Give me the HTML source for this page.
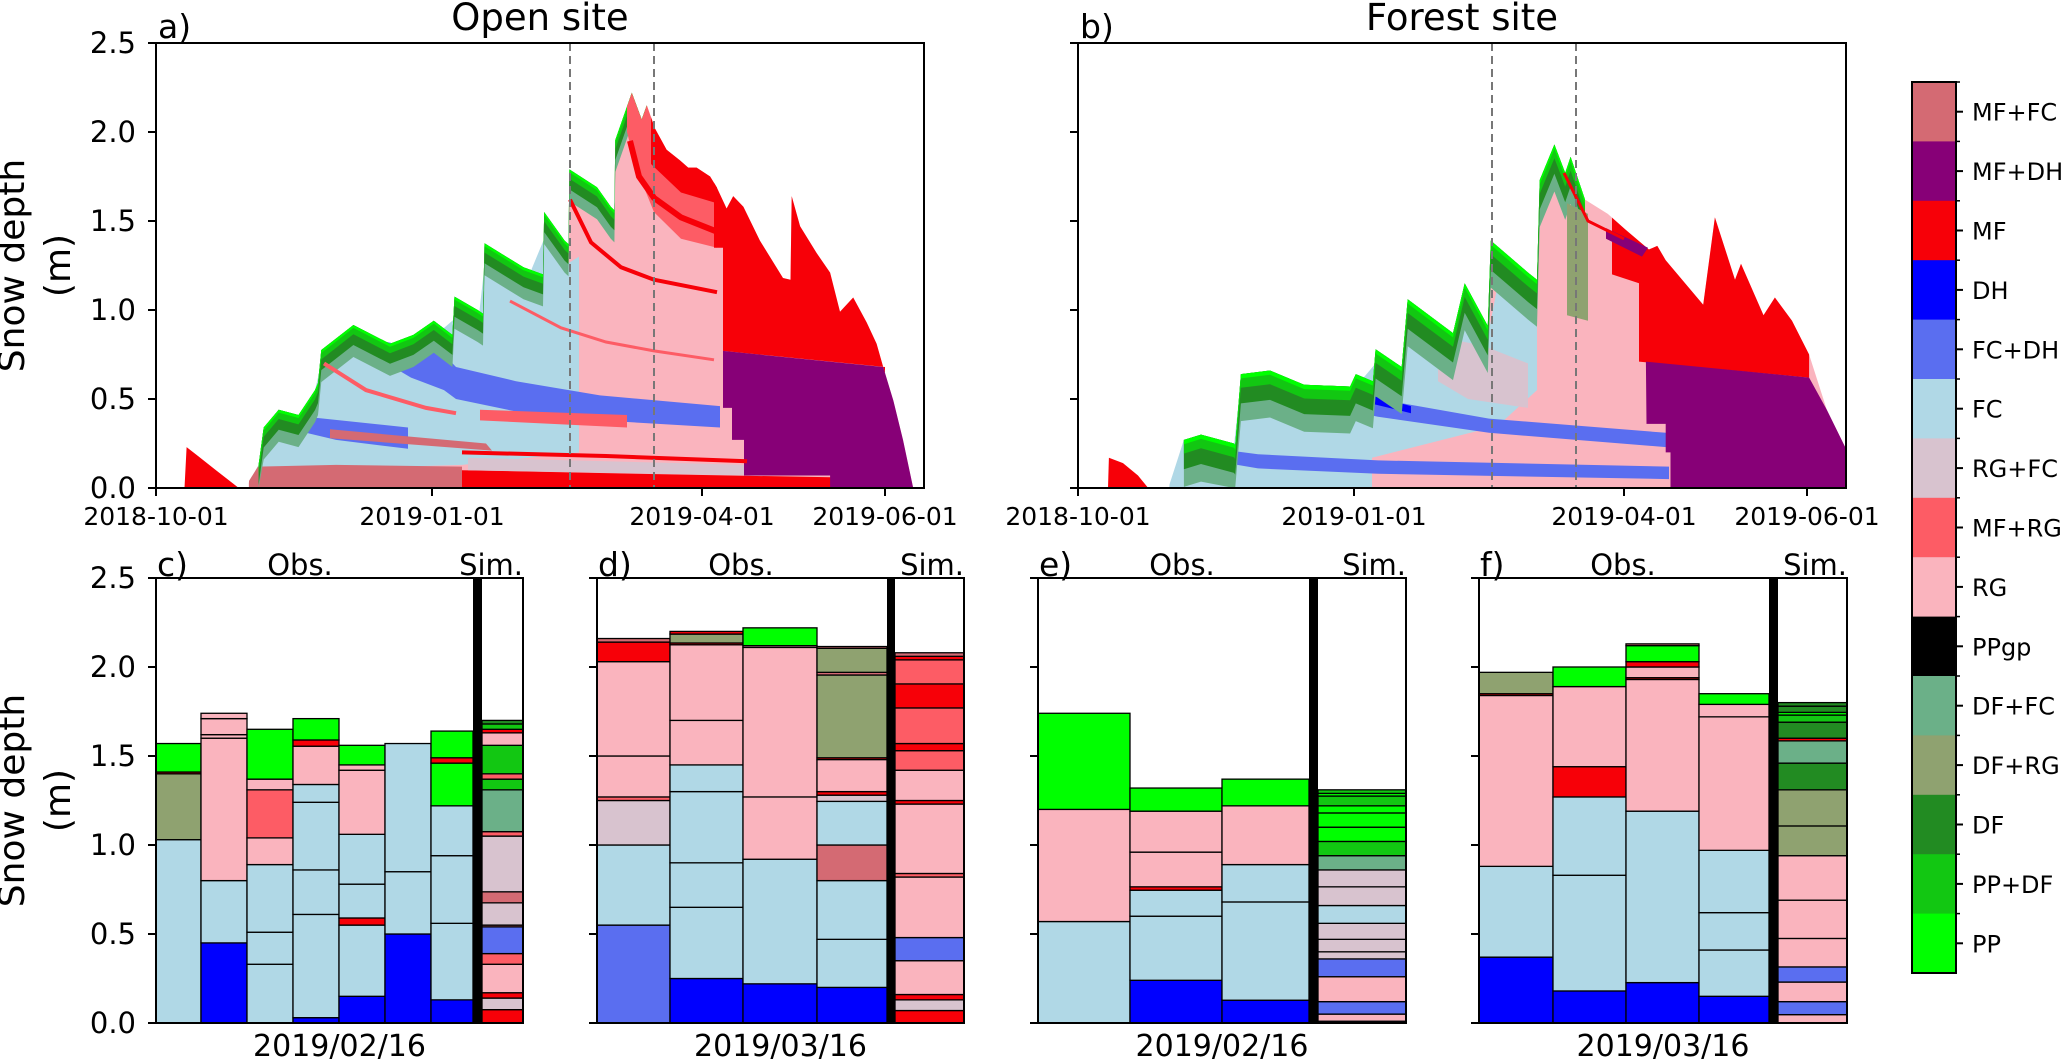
<!DOCTYPE html>
<html><head><meta charset="utf-8"><title>Snow stratigraphy</title>
<style>
html,body{margin:0;padding:0;background:#fff;}
svg{display:block;font-family:"DejaVu Sans","Liberation Sans",sans-serif;}
</style></head>
<body>
<svg id="fig" xmlns="http://www.w3.org/2000/svg" width="2067" height="1060" viewBox="0 0 2067 1060"></svg>
<script>
// ---------- data ----------
const grainTypes = ['MF+FC','MF+DH','MF','DH','FC+DH','FC','RG+FC','MF+RG','RG','PPgp','DF+FC','DF+RG','DF','PP+DF','PP'];
const grainColors = ['#d46a73','#870077','#f70008','#0000ff','#5a6ef0','#b0d8e6','#d8c3cf','#fd5c65','#fab4be','#000000','#6bb088','#8fa270','#228b22','#12c712','#00ff00'];

// Panel a (open site) total depth outline
const aEarlyDays = [9.5,10.2,14,20,27.6];
const aEarlyDepth = [0,0.23,0.18,0.1,0];
const aDays = [30.9,34.2,35.9,40.9,47.5,53,54,55.1,65.8,78,85.8,92.6,98.8,99.5,107.2,109,109.5,122.5,129,129.4,136.2,137.5,137.8,147,151.6,152.8,153.1,158.6,161.9,163.6,166.3,170.2,174.7,177.4,180.2,184.7,186.9,190.2,192.4,195.8,201.3,209,211.5,211.9,214.7,220.2,224.7,228,232.4,236.9,240.2,242.4,245.8,249,252.4];
const aDepth = [0.03,0.13,0.34,0.44,0.41,0.55,0.59,0.775,0.916,0.81,0.86,0.94,0.86,1.075,1.0,0.98,1.375,1.24,1.2,1.55,1.39,1.37,1.79,1.69,1.58,1.56,1.955,2.22,2.07,2.15,2.02,1.90,1.84,1.80,1.80,1.75,1.69,1.57,1.64,1.58,1.39,1.18,1.17,1.64,1.47,1.32,1.21,0.99,1.07,0.93,0.81,0.68,0.49,0.27,0];
// Panel a regions: [day, depth] vertices
const aFC = [[31,0],[31,0.03],[34.2,0.13],[35.9,0.34],[40.9,0.44],[47.5,0.41],[53,0.55],[55.1,0.7],[65.8,0.85],[78,0.75],[92.6,0.85],[99.5,0.95],[107.2,0.9],[109.5,1.25],[122.5,1.12],[129.4,1.4],[136.2,1.25],[141,1.3],[141,0.2],[102,0.13],[40,0.1]];
const aMFFCbottom = [[31,0],[31,0.04],[34,0.12],[60,0.13],[102,0.12],[102,0]];
const aMFbottom = [[102,0],[102,0.1],[160,0.08],[225,0.06],[225,0]];
const aRGFCbottom = [[104,0.10],[197,0.07],[197,0.13],[104,0.17]];
const aMFline = [[102,0.2],[150,0.18],[197,0.15]];
const aFCDH1 = [[77,0.82],[96,0.75],[100,0.68],[120,0.6],[148,0.52],[188,0.46],[188,0.34],[148,0.38],[120,0.43],[100,0.5],[96,0.55],[85,0.62],[77,0.70]];
const aFCDH2 = [[50,0.40],[84,0.34],[84,0.22],[60,0.27],[50,0.31]];
const aMFFCmid = [[58,0.33],[110,0.25],[112,0.21],[58,0.28]];
const aMFRGmid = [[108,0.44],[157,0.41],[157,0.34],[108,0.38]];
// outline-clipped regions: top follows outline between span days, then bottom boundary (right to left)
const aMFRGupperSpan = [157,187];
const aMFRGupperBottom = [[187,1.35],[175,1.4],[166,1.55],[160,1.8],[157,2.0]];
const aMFupperSpan = [165,187];
const aMFupperBottom = [[187,1.60],[175,1.66],[165,1.82]];
const aMFrightSpan = [186,243];
const aMFrightBottom = [[243,0.68],[189,0.77],[189,1.35],[186,1.35]];
const aRedLine1 = [[158,1.95],[161,1.75],[166,1.63],[175,1.52],[187,1.44]];
const aRedLine2 = [[138,1.62],[145,1.38],[155,1.24],[166,1.17],[187,1.10]];
const aRedLine3 = [[118,1.05],[135,0.9],[150,0.82],[166,0.77],[186,0.72]];
const aRedLine4 = [[56,0.7],[70,0.55],[90,0.45],[100,0.42]];
const aMFDH = [[189,0.77],[242.4,0.68],[245.8,0.49],[249,0.27],[252.4,0],[224.7,0],[224.7,0.07],[196,0.07],[196,0.27],[192,0.27],[192,0.45],[189,0.45]];

// Panel b (forest site)
const bEarlyDays = [10,10.3,15,20,23.4];
const bEarlyDepth = [0,0.17,0.14,0.07,0];
const bDays = [30.4,35.3,41,52,52.4,54.3,64,75.4,90.7,92.6,98.3,99.2,107.9,109.9,125,128.9,136.6,137.6,150,153,153.9,158.8,162.4,164.2,169,176.6,182.6,190.3,193.1,195.9,208.4,212.3,219,221,228.5,232.3,238,243.7,249.6,256.3];
const bDepth = [0,0.27,0.30,0.25,0.24,0.64,0.66,0.58,0.57,0.64,0.60,0.78,0.68,1.06,0.87,1.15,0.91,1.39,1.21,1.17,1.73,1.93,1.77,1.86,1.62,1.54,1.45,1.34,1.36,1.28,1.03,1.52,1.17,1.26,0.97,1.07,0.94,0.75,0.44,0.21];
const bFC = [[30.4,0],[30.5,0.02],[35.3,0.27],[41,0.30],[52,0.24],[54.3,0.6],[64,0.62],[75.4,0.54],[90.7,0.53],[99.2,0.7],[107.9,0.62],[109.9,0.95],[125,0.8],[128.9,1.0],[136.6,0.85],[140,1.15],[150,1.05],[153,0.95],[153,0.55],[140,0.35],[98,0.17],[98,0]];
const bRGFCpatch = [[120,0.85],[135,0.8],[150,0.7],[150,0.45],[130,0.5],[120,0.6]];
const bFCDHlow = [[42,0.23],[60,0.19],[100,0.155],[197,0.12],[197,0.05],[100,0.08],[60,0.11],[46,0.15]];
const bFCDHup = [[75,0.57],[100,0.50],[137,0.39],[196,0.31],[196,0.23],[137,0.31],[100,0.40],[80,0.47],[75,0.53]];
const bDH = [[89,0.56],[111,0.46],[111,0.42],[89,0.51]];
const bDFRG = [[163,1.6],[170,1.54],[170,0.94],[163,0.97]];
const bMFrightSpan = [178,243.7];
const bMFrightBottom = [[243.7,0.62],[187,0.71],[187,1.15],[178,1.2]];
const bMFDHpatch = [[176,1.46],[190,1.35],[188,1.30],[176,1.40]];
const bMFDH = [[189.3,0.71],[243.7,0.62],[249.6,0.44],[256.3,0.21],[256.3,0],[197.5,0],[197.5,0.2],[195.9,0.2],[195.9,0.36],[189.5,0.36]];
const bRedLine = [[162,1.77],[170,1.5],[182,1.40]];

const axisTicksM = [0,0.5,1.0,1.5,2.0,2.5];
const axisTickLabels = ['0.0','0.5','1.0','1.5','2.0','2.5'];
const dateTickDays = [0,92,182,243];
const dateTickLabels = ['2018-10-01','2019-01-01','2019-04-01','2019-06-01'];
const pitDays = [138,166];

// Bar panels: layers [type, top depth] from ground up
const cCols = [
 [['FC',1.03],['DF+RG',1.40],['MF',1.41],['PP',1.57]],
 [['DH',0.45],['FC',0.80],['RG',1.60],['RG',1.62],['RG',1.71],['RG',1.74]],
 [['FC',0.33],['FC',0.51],['FC',0.89],['RG',1.04],['MF+RG',1.31],['RG',1.37],['PP',1.65]],
 [['DH',0.03],['FC',0.61],['FC',0.86],['FC',1.24],['FC',1.34],['RG',1.555],['MF',1.59],['PP',1.71]],
 [['DH',0.15],['FC',0.55],['MF',0.59],['FC',0.78],['FC',1.06],['RG',1.42],['RG',1.45],['PP',1.56]],
 [['DH',0.50],['FC',0.85],['FC',1.57]],
 [['DH',0.13],['FC',0.56],['FC',0.94],['FC',1.22],['PP',1.46],['MF',1.49],['PP',1.64]]];
const cSim = [['MF',0.075],['RG+FC',0.14],['MF',0.17],['RG',0.33],['MF+RG',0.39],['FC+DH',0.54],['MF+FC',0.55],['RG+FC',0.675],['MF+FC',0.737],['RG+FC',1.05],['MF+RG',1.075],['DF+FC',1.31],['PP+DF',1.37],['MF+RG',1.40],['PP+DF',1.56],['RG',1.63],['MF',1.65],['PP+DF',1.68],['DF',1.70]];
const dCols = [
 [['FC+DH',0.55],['FC',1.0],['RG+FC',1.25],['MF+RG',1.27],['RG',1.50],['RG',2.03],['MF',2.14],['MF+FC',2.16]],
 [['DH',0.25],['FC',0.65],['FC',0.90],['FC',1.30],['FC',1.45],['RG',1.70],['RG',2.125],['MF',2.135],['DF+RG',2.185],['MF',2.20]],
 [['DH',0.22],['FC',0.92],['RG',1.27],['RG',2.11],['RG',2.12],['PP',2.22]],
 [['DH',0.20],['FC',0.47],['FC',0.80],['MF+FC',1.0],['FC',1.245],['RG+FC',1.28],['MF',1.30],['RG',1.48],['MF',1.49],['DF+RG',1.955],['MF+FC',1.97],['DF+RG',2.105],['MF+FC',2.115]]];
const dSim = [['MF',0.07],['RG+FC',0.13],['MF',0.16],['RG',0.35],['FC+DH',0.48],['RG',0.82],['MF+RG',0.84],['RG',1.23],['MF',1.25],['RG',1.42],['MF+RG',1.53],['MF',1.57],['MF+RG',1.77],['MF',1.905],['MF+RG',2.04],['MF',2.06],['MF+FC',2.08]];
const eCols = [
 [['FC',0.57],['RG',1.20],['PP',1.74]],
 [['DH',0.24],['FC',0.60],['FC',0.746],['MF',0.765],['RG',0.96],['RG',1.19],['PP',1.32]],
 [['DH',0.128],['FC',0.68],['FC',0.89],['RG',1.22],['PP',1.37]]];
const eSim = [['FC+DH',0.01],['RG',0.05],['FC+DH',0.12],['RG',0.26],['FC+DH',0.36],['RG+FC',0.40],['RG+FC',0.47],['RG+FC',0.56],['FC',0.66],['RG+FC',0.765],['RG+FC',0.86],['DF+FC',0.94],['PP+DF',1.02],['PP',1.10],['PP',1.18],['PP',1.22],['PP+DF',1.275],['PP',1.29],['PP+DF',1.31]];
const fCols = [
 [['DH',0.37],['FC',0.88],['RG',1.84],['MF',1.85],['DF+RG',1.97]],
 [['DH',0.18],['FC',0.83],['FC',1.27],['MF',1.44],['RG',1.89],['PP',2.00]],
 [['DH',0.227],['FC',1.19],['RG',1.93],['MF',1.94],['RG',2.00],['MF',2.03],['PP',2.12],['MF+FC',2.13]],
 [['DH',0.15],['FC',0.41],['FC',0.62],['FC',0.97],['RG',1.72],['RG',1.79],['PP',1.85]]];
const fSim = [['RG',0.047],['FC+DH',0.12],['RG',0.23],['FC+DH',0.315],['RG',0.475],['RG',0.69],['RG',0.94],['DF+RG',1.107],['DF+RG',1.31],['DF',1.46],['DF+FC',1.585],['MF',1.60],['DF',1.69],['PP+DF',1.73],['PP',1.745],['DF',1.78],['DF',1.80]];

// ---------- layout ----------
const NS = 'http://www.w3.org/2000/svg';
const svg = document.getElementById('fig');
const TOP = {y0:488, pxPerM:178, pxPerDay:3, top:43};
const BOT = {y0:1023, pxPerM:178, top:578};
const colorOf = t => grainColors[grainTypes.indexOf(t)];
const yT = m => TOP.y0 - m*TOP.pxPerM;
const yB = m => BOT.y0 - m*BOT.pxPerM;
function mk(tag, attrs, parent){const e=document.createElementNS(NS,tag);for(const k in attrs)e.setAttribute(k,attrs[k]);(parent||svg).appendChild(e);return e;}
function txt(s,x,y,size,anchor,parent){const t=mk('text',{x:x,y:y,'font-size':size,'text-anchor':anchor||'start',fill:'#000'},parent);t.textContent=s;return t;}

function interp(days, depth, d){
  if(d<=days[0]) return depth[0];
  for(let i=1;i<days.length;i++){ if(d<=days[i]){ const f=(d-days[i-1])/(days[i]-days[i-1]); return depth[i-1]+f*(depth[i]-depth[i-1]); } }
  return depth[depth.length-1];
}
function clipped(days, depth, span, bottom){
  const pts=[[span[0],interp(days,depth,span[0])]];
  days.forEach((d,i)=>{ if(d>span[0] && d<span[1]) pts.push([d,depth[i]]); });
  pts.push([span[1],interp(days,depth,span[1])]);
  return pts.concat(bottom);
}

function drawTopPanel(left, name, earlyD, earlyV, days, depth, regions, lines, greenEnd, capScale){
  const xD = d => left + d*TOP.pxPerDay;
  const g = mk('g',{});
  
  
  const ptsOf = arr => arr.map(p=>xD(p[0]).toFixed(1)+','+yT(p[1]).toFixed(1)).join(' ');
  const poly = (arr, col, nm) => { const p = mk('polygon',{points:ptsOf(arr),fill:col},g);
    
     return p; };
  const early = earlyD.map((d,i)=>[d,earlyV[i]]);
  poly(early, colorOf('MF'), 'early-snow-mf');
  const outline = [[days[0],0]].concat(days.map((d,i)=>[d,depth[i]])).concat([[days[days.length-1],0]]);
  poly(outline, colorOf('RG'), 'snowpack-rg-base');
  const resolve = r => r[0].span ? clipped(days, depth, r[0].span, r[0].bottom) : r[0];
  regions.slice(0, regions.splitAt).forEach(r=>poly(resolve(r), colorOf(r[1]), r[2]));
  const caps = [['DF+FC',0.24],['DF',0.15],['PP+DF',0.07],['PP',0.022]];
  caps.forEach(c=>{
    const top=[],bot=[];
    days.forEach((d,i)=>{ if(d>=33 && d<=greenEnd){ top.push([d,depth[i]]); bot.push([d,Math.max(0,depth[i]-c[1]*capScale)]); } });
    poly(top.concat(bot.reverse()), colorOf(c[0]), 'fresh-snow-cap-'+c[0].toLowerCase().replace('+','-'));
  });
  regions.slice(regions.splitAt).forEach(r=>poly(resolve(r), colorOf(r[1]), r[2]));
  lines.forEach(l=>{ const pl = mk('polyline',{points:ptsOf(l[0]),fill:'none',stroke:l[1],'stroke-width':l[2]},g);
    
     });
  pitDays.forEach(d=>{ const ln = mk('line',{x1:xD(d),x2:xD(d),y1:TOP.top,y2:TOP.y0,stroke:'#777','stroke-width':2,'stroke-dasharray':'8,5'},g);
    
     });
  const fr = mk('rect',{x:left,y:TOP.top,width:768,height:TOP.y0-TOP.top,fill:'none',stroke:'#000','stroke-width':2},g);
  
  
  axisTicksM.forEach(m=>{ mk('line',{x1:left-8,x2:left,y1:yT(m),y2:yT(m),stroke:'#000','stroke-width':2},g); });
  dateTickDays.forEach((d,i)=>{ mk('line',{x1:xD(d),x2:xD(d),y1:TOP.y0,y2:TOP.y0+8,stroke:'#000','stroke-width':2},g);
    const t = txt(dateTickLabels[i], xD(d), 525, 25, 'middle', g);
    
     });
  return g;
}

const aRegions = [[aFC,'FC','fc-region'],[aMFFCbottom,'MF+FC','basal-mf-fc'],[aMFbottom,'MF','basal-mf'],[aRGFCbottom,'RG+FC','basal-rg-fc'],[aFCDH2,'FC+DH','fc-dh-band-lower'],[aFCDH1,'FC+DH','fc-dh-band'],[aMFFCmid,'MF+FC','mf-fc-band'],[aMFRGmid,'MF+RG','mf-rg-band'],
  [{span:aMFRGupperSpan,bottom:aMFRGupperBottom},'MF+RG','mf-rg-upper'],[{span:aMFupperSpan,bottom:aMFupperBottom},'MF','mf-upper'],[{span:aMFrightSpan,bottom:aMFrightBottom},'MF','mf-spring-region'],[aMFDH,'MF+DH','mf-dh-region']];
aRegions.splitAt = 8;
drawTopPanel(156,'panel-a-open-site',aEarlyDays,aEarlyDepth,aDays,aDepth,aRegions,
  [[aMFline,'#f70008',4],[aRedLine1,'#f70008',6],[aRedLine2,'#f70008',4],[aRedLine3,'#fd5c65',3],[aRedLine4,'#fd5c65',4]],166,0.75);
const bRegions = [[bFC,'FC','fc-region'],[bRGFCpatch,'RG+FC','rg-fc-patch'],[bFCDHlow,'FC+DH','fc-dh-band-lower'],[bFCDHup,'FC+DH','fc-dh-band'],[bDH,'DH','dh-patch'],
  [bDFRG,'DF+RG','df-rg-patch'],[{span:bMFrightSpan,bottom:bMFrightBottom},'MF','mf-spring-region'],[bMFDHpatch,'MF+DH','mf-dh-patch'],[bMFDH,'MF+DH','mf-dh-region']];
bRegions.splitAt = 5;
drawTopPanel(1078,'panel-b-forest-site',bEarlyDays,bEarlyDepth,bDays,bDepth,bRegions,[[bRedLine,'#f70008',3]],170,1.1);

[TOP, BOT].forEach((P,k)=>{
  axisTicksM.forEach((m,i)=>{ const y = P.y0 - m*P.pxPerM;
    const t = txt(axisTickLabels[i], 136, y+10, 29, 'end');
    
     });
  const cy = (P.top+P.y0)/2;
  const l = mk('text',{x:0,y:0,'font-size':36,'text-anchor':'middle',transform:'translate(24,'+cy+') rotate(-90)'});
  l.textContent='Snow depth';
  
  
  const l2 = mk('text',{x:0,y:0,'font-size':36,'text-anchor':'middle',transform:'translate(70,'+cy+') rotate(-90)'});
  l2.textContent='(m)';
  
  
});

[['a)',158,38],['b)',1080,38]].forEach(p=>{ const t=txt(p[0],p[1],p[2],33);
  
   });
const t1 = txt('Open site',540,30,37,'middle');


const t2 = txt('Forest site',1462,30,37,'middle');



// ---------- bar panels ----------
const barPanels = [
 {name:'panel-c', letter:'c)', cols:cCols, sim:cSim, edges:[156,201,247,293,339,385,431,473], sep:[473,482], right:523, obsX:300, date:'2019/02/16'},
 {name:'panel-d', letter:'d)', cols:dCols, sim:dSim, edges:[597,670,743,817,887], sep:[887,895], right:964, obsX:741, date:'2019/03/16'},
 {name:'panel-e', letter:'e)', cols:eCols, sim:eSim, edges:[1038,1130,1222,1309], sep:[1309,1318], right:1406, obsX:1182, date:'2019/02/16'},
 {name:'panel-f', letter:'f)', cols:fCols, sim:fSim, edges:[1479,1553,1626,1699,1769], sep:[1769,1778], right:1847, obsX:1623, date:'2019/03/16'}];

function drawColumn(g, layers, x0, x1, nm){
  let bottom = 0;
  layers.forEach(L=>{
    const r = mk('rect',{x:x0,y:yB(L[1]),width:x1-x0,height:Math.max(0.5,yB(bottom)-yB(L[1])),fill:colorOf(L[0]),stroke:'#000','stroke-width':1.3},g);
    
    
    bottom = L[1];
  });
}
barPanels.forEach(P=>{
  const g = mk('g',{});
  
  
  const left = P.edges[0];
  P.cols.forEach((c,i)=>drawColumn(g, c, P.edges[i], P.edges[i+1], 'obs-profile-'+(i+1)));
  drawColumn(g, P.sim, P.sep[1], P.right, 'sim-profile');
  const sp = mk('rect',{x:P.sep[0],y:BOT.top,width:P.sep[1]-P.sep[0],height:BOT.y0-BOT.top,fill:'#000'},g);
  
  
  const fr = mk('rect',{x:left,y:BOT.top,width:P.right-left,height:BOT.y0-BOT.top,fill:'none',stroke:'#000','stroke-width':2},g);
  
  
  axisTicksM.forEach(m=>mk('line',{x1:left-8,x2:left,y1:yB(m),y2:yB(m),stroke:'#000','stroke-width':2},g));
  const lt = txt(P.letter,left+1,576,33,'start',g);
  
  
  const ob = txt('Obs.',P.obsX,575,29,'middle',g);
  
  
  const sm = txt('Sim.',P.right,575,29,'end',g);
  
  
  const dt = txt(P.date,(left+P.right)/2,1056,30,'middle',g);
  
  
});

// ---------- colorbar ----------
const cb = mk('g',{});


const cbX=1912, cbW=44, cbTop=82, cbH=891, cbStep=cbH/grainTypes.length;
grainTypes.forEach((t,i)=>{
  const y = cbTop + i*cbStep;
  const r = mk('rect',{x:cbX,y:y,width:cbW,height:cbStep+0.5,fill:grainColors[i]},cb);
  
  
  mk('line',{x1:cbX+cbW,x2:cbX+cbW+7,y1:y+cbStep/2,y2:y+cbStep/2,stroke:'#000','stroke-width':2},cb);
  mk('line',{x1:cbX+cbW,x2:cbX+cbW+4,y1:y,y2:y,stroke:'#000','stroke-width':1.5},cb);
  const l = txt(t,1972,y+cbStep/2+9,24,'start',cb);
  
  
});
const cbf = mk('rect',{x:cbX,y:cbTop,width:cbW,height:cbH,fill:'none',stroke:'#000','stroke-width':2},cb);


</script>
</body></html>
